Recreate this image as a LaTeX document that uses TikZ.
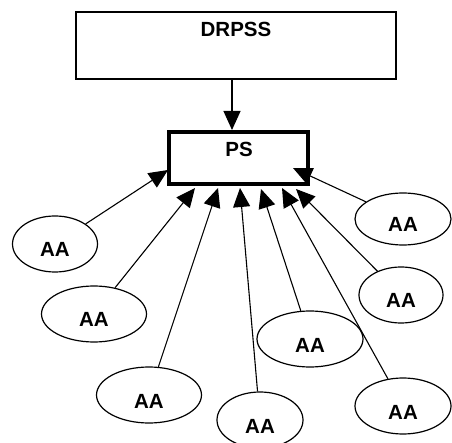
\documentclass[tikz,border=0pt]{standalone}
\usepackage{fontspec}
\setmainfont{Liberation Sans}
\usetikzlibrary{shapes.geometric,arrows.meta}
\tikzset{
  x=1pt,y=1pt,
  lbl/.style={font=\fontsize{20.5}{24}\selectfont\bfseries},
  ell/.style={draw,line width=1.2pt,ellipse,inner sep=0pt,lbl},
  conn/.style={line width=1.1pt,-{Triangle[length=19pt,width=17pt]}},
}
\newcommand{\aatext}{\raisebox{-13pt}[0pt][0pt]{AA}}
\begin{document}
\begin{tikzpicture}
\useasboundingbox (0,0) rectangle (452,-443);
% boxes
\draw[line width=1.4pt] (76,-12) rectangle (396,-79);
\node[lbl,anchor=center] (drpss) at (236,-29) {DRPSS};
\draw[line width=4pt] (169,-132) rectangle (308,-184);
\node[lbl,anchor=center] (ps) at (239,-149) {PS};
\coordinate (dtop) at (232,-79);
\coordinate (t0) at (232,-130);
\draw[conn] (dtop) -- (t0);
% ellipses
\node[ell,minimum width=85pt,minimum height=56pt] (e1) at (55,-244) {\aatext};
\node[ell,minimum width=105pt,minimum height=56pt] (e2) at (94,-314) {\aatext};
\node[ell,minimum width=105pt,minimum height=56pt] (e3) at (149,-395) {\aatext};
\node[ell,minimum width=86pt,minimum height=56pt] (e4) at (260,-420) {\aatext};
\node[ell,minimum width=106pt,minimum height=56pt] (e5) at (310,-339) {\aatext};
\node[ell,minimum width=96pt,minimum height=56pt] (e6) at (403,-406) {\aatext};
\node[ell,minimum width=84pt,minimum height=56pt] (e7) at (401,-295) {\aatext};
\node[ell,minimum width=96pt,minimum height=52pt] (e8) at (403,-219) {\aatext};
% tips on PS
\coordinate (t1) at (168,-170);
\coordinate (t2) at (195,-188);
\coordinate (t3) at (218,-188);
\coordinate (t4) at (240,-188);
\coordinate (t5) at (261,-189);
\coordinate (t6) at (282,-188);
\coordinate (t7) at (296,-189);
\coordinate (t8) at (293,-168);
\foreach \i in {1,...,8}{\draw[conn] (e\i) -- (t\i);}
\end{tikzpicture}
\end{document}
